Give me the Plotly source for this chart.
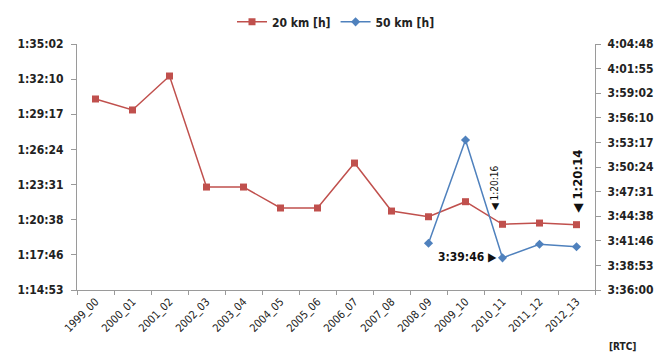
import plotly.graph_objects as go

# Season labels
seasons = ["1999_00", "2000_01", "2001_02", "2002_03", "2003_04", "2004_05",
           "2005_06", "2006_07", "2007_08", "2008_09", "2009_10", "2010_11",
           "2011_12", "2012_13"]

# Times in seconds
km20_sec = [5432, 5378, 5545, 4999, 4999, 4896, 4896, 5117, 4881, 4853,
            4927, 4816, 4822, 4814]
km50_sec = [None, None, None, None, None, None, None, None, None, 13288,
            14014, 13186, 13281, 13264]

# Axis ticks (0.002 day steps)
left_ticks = [4492.8 + 172.8 * i for i in range(8)]
right_ticks = [12960 + 172.8 * i for i in range(11)]


def hms(s):
    s = int(round(s))
    return f"{s // 3600}:{(s % 3600) // 60:02d}:{s % 60:02d}"


FONT = "Liberation Sans Narrow, DejaVu Sans Condensed, Arial Narrow, sans-serif"
RED = "#C0504D"
BLUE = "#4F81BD"

fig = go.Figure()
fig.add_trace(go.Scatter(
    x=seasons, y=km20_sec, name="<b>20 km [h]</b>", mode="lines+markers",
    line=dict(color=RED, width=1.5),
    marker=dict(symbol="square", size=7, color=RED),
    yaxis="y"))
fig.add_trace(go.Scatter(
    x=seasons, y=km50_sec, name="<b>50 km [h]</b>", mode="lines+markers",
    line=dict(color=BLUE, width=1.5),
    marker=dict(symbol="diamond", size=7, color=BLUE),
    yaxis="y2", connectgaps=False))

# Value callouts
fig.add_annotation(x=seasons[11], y=km20_sec[11], xref="x", yref="y",
                   text="◀ " + hms(km20_sec[11]), textangle=-90,
                   showarrow=False, xanchor="center", yanchor="bottom",
                   xshift=-8, yshift=12,
                   font=dict(family=FONT, size=10, color="#111111"))
fig.add_annotation(x=seasons[13], y=km20_sec[13], xref="x", yref="y",
                   text="<b>◀ " + hms(km20_sec[13]) + "</b>", textangle=-90,
                   showarrow=False, xanchor="center", yanchor="bottom",
                   xshift=1, yshift=10,
                   font=dict(family=FONT, size=13, color="#111111"))
fig.add_annotation(x=seasons[11], y=km50_sec[11], xref="x", yref="y2",
                   text="<b>" + hms(km50_sec[11]) + " ▶</b>",
                   showarrow=False, xanchor="right", yanchor="middle",
                   xshift=-4, yshift=1,
                   font=dict(family=FONT, size=12, color="#111111"))
fig.add_annotation(x=1.054, y=-0.2, xref="paper", yref="paper",
                   text="<b>[RTC]</b>", showarrow=False,
                   xanchor="center", yanchor="top",
                   font=dict(family=FONT, size=10, color="#222222"))

fig.update_layout(
    width=669, height=353,
    margin=dict(l=77, r=74, t=44, b=63, autoexpand=False),
    paper_bgcolor="white", plot_bgcolor="white",
    font=dict(family=FONT, size=11, color="#222222"),
    showlegend=True,
    legend=dict(orientation="h", x=0.5, xanchor="center", y=1.09,
                yanchor="middle", font=dict(family=FONT, size=12, color="#222222"),
                itemwidth=30),
    xaxis=dict(type="category", range=[-0.5, 13.5], tickangle=-45,
               showline=True, linecolor="#9a9a9a", linewidth=1,
               ticks="outside", ticklen=4, tickcolor="#9a9a9a",
               tickson="boundaries", showgrid=False, automargin=False,
               tickfont=dict(family=FONT, size=11, color="#222222")),
    yaxis=dict(range=[left_ticks[0], left_ticks[-1]], tickvals=left_ticks,
               ticktext=["<b>" + hms(v) + "</b>" for v in left_ticks],
               showline=True, linecolor="#9a9a9a", linewidth=1,
               ticks="outside", ticklen=5, tickcolor="#9a9a9a",
               ticklabelstandoff=5,
               showgrid=False, zeroline=False, automargin=False,
               tickfont=dict(family=FONT, size=12, color="#222222")),
    yaxis2=dict(range=[right_ticks[0], right_ticks[-1]], tickvals=right_ticks,
                ticktext=["<b>" + hms(v) + "</b>" for v in right_ticks],
                overlaying="y", side="right",
                showline=True, linecolor="#9a9a9a", linewidth=1,
                ticks="outside", ticklen=5, tickcolor="#9a9a9a",
                ticklabelstandoff=4,
                showgrid=False, zeroline=False, automargin=False,
                tickfont=dict(family=FONT, size=12, color="#222222")),
)

fig.write_html("out.html")
